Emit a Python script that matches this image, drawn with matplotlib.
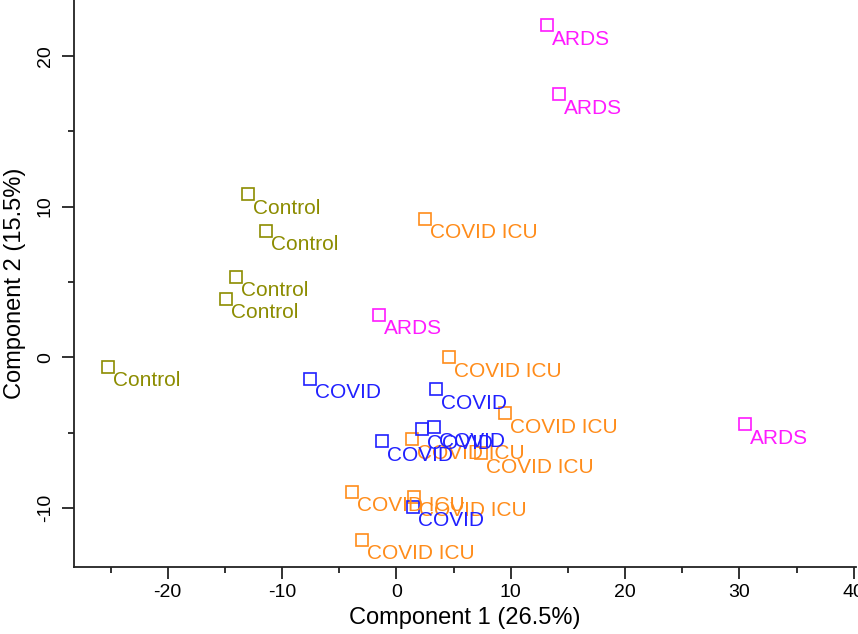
import matplotlib
matplotlib.use("Agg")
import matplotlib.pyplot as plt
from matplotlib.ticker import MultipleLocator

plt.rcParams["font.family"] = ["Liberation Sans", "DejaVu Sans"]
plt.rcParams["axes.unicode_minus"] = False

# --------------------------
# PCA scores
# --------------------------
groups = ["Control", "ARDS", "COVID ICU", "COVID"]

control_x = [-12.98, -11.42, -14.0, -14.92, -25.23]
control_y = [10.82, 8.41, 5.36, 3.9, -0.64]

ards_x = [13.15, 14.2, -1.5, 30.47]
ards_y = [22.03, 17.45, 2.82, -4.45]

icu_x = [2.48, 4.56, 9.47, 1.4, 7.37, -3.88, 1.57, -2.97]
icu_y = [9.19, 0.02, -3.7, -5.43, -6.36, -8.9, -9.24, -12.11]

covid_x = [-7.56, 3.5, 2.26, 3.32, -1.23, 1.45]
covid_y = [-1.41, -2.11, -4.77, -4.63, -5.56, -9.9]

x_label = "Component 1 (26.5%)"
y_label = "Component 2 (15.5%)"

colors = {
    "Control": "#8c8c00",
    "ARDS": "#ff1aff",
    "COVID ICU": "#ff8c1a",
    "COVID": "#2020ff",
}

series = {
    "Control": (control_x, control_y),
    "ARDS": (ards_x, ards_y),
    "COVID ICU": (icu_x, icu_y),
    "COVID": (covid_x, covid_y),
}

fig = plt.figure(figsize=(8.58, 6.34), dpi=100)
ax = fig.add_axes([74 / 858, 67 / 634, (856 - 74) / 858, 567 / 634])

for name in groups:
    xs, ys = series[name]
    c = colors[name]
    ax.plot(xs, ys, ls="none", marker="s", markersize=8.5,
            markerfacecolor="none", markeredgecolor=c, markeredgewidth=1.2)
    for x, y in zip(xs, ys):
        ax.annotate(name, (x, y), xytext=(3.6, -14), textcoords="offset points",
                    ha="left", va="baseline", fontsize=15, color=c)

ax.set_xlim(-28.2, 40.2)
ax.set_ylim(-13.9, 23.7)

ax.xaxis.set_major_locator(MultipleLocator(10))
ax.xaxis.set_minor_locator(MultipleLocator(5))
ax.yaxis.set_major_locator(MultipleLocator(10))
ax.yaxis.set_minor_locator(MultipleLocator(5))

for side in ["top", "right"]:
    ax.spines[side].set_visible(False)
for side in ["left", "bottom"]:
    ax.spines[side].set_linewidth(1.3)
    ax.spines[side].set_color("#222222")

ax.tick_params(which="major", length=8.5, width=1.3, labelsize=14, color="#222222")
ax.tick_params(which="minor", length=4.3, width=1.3, color="#222222")
ax.tick_params(axis="y", which="major", labelrotation=90, pad=6)
for lab in ax.get_yticklabels():
    lab.set_va("center")

ax.set_xlabel(x_label, fontsize=17)
ax.set_ylabel(y_label, fontsize=17)
ax.xaxis.set_label_coords(0.5, -0.07)
ax.yaxis.set_label_coords(-0.062, 0.5)

fig.savefig("out.png", dpi=100)
